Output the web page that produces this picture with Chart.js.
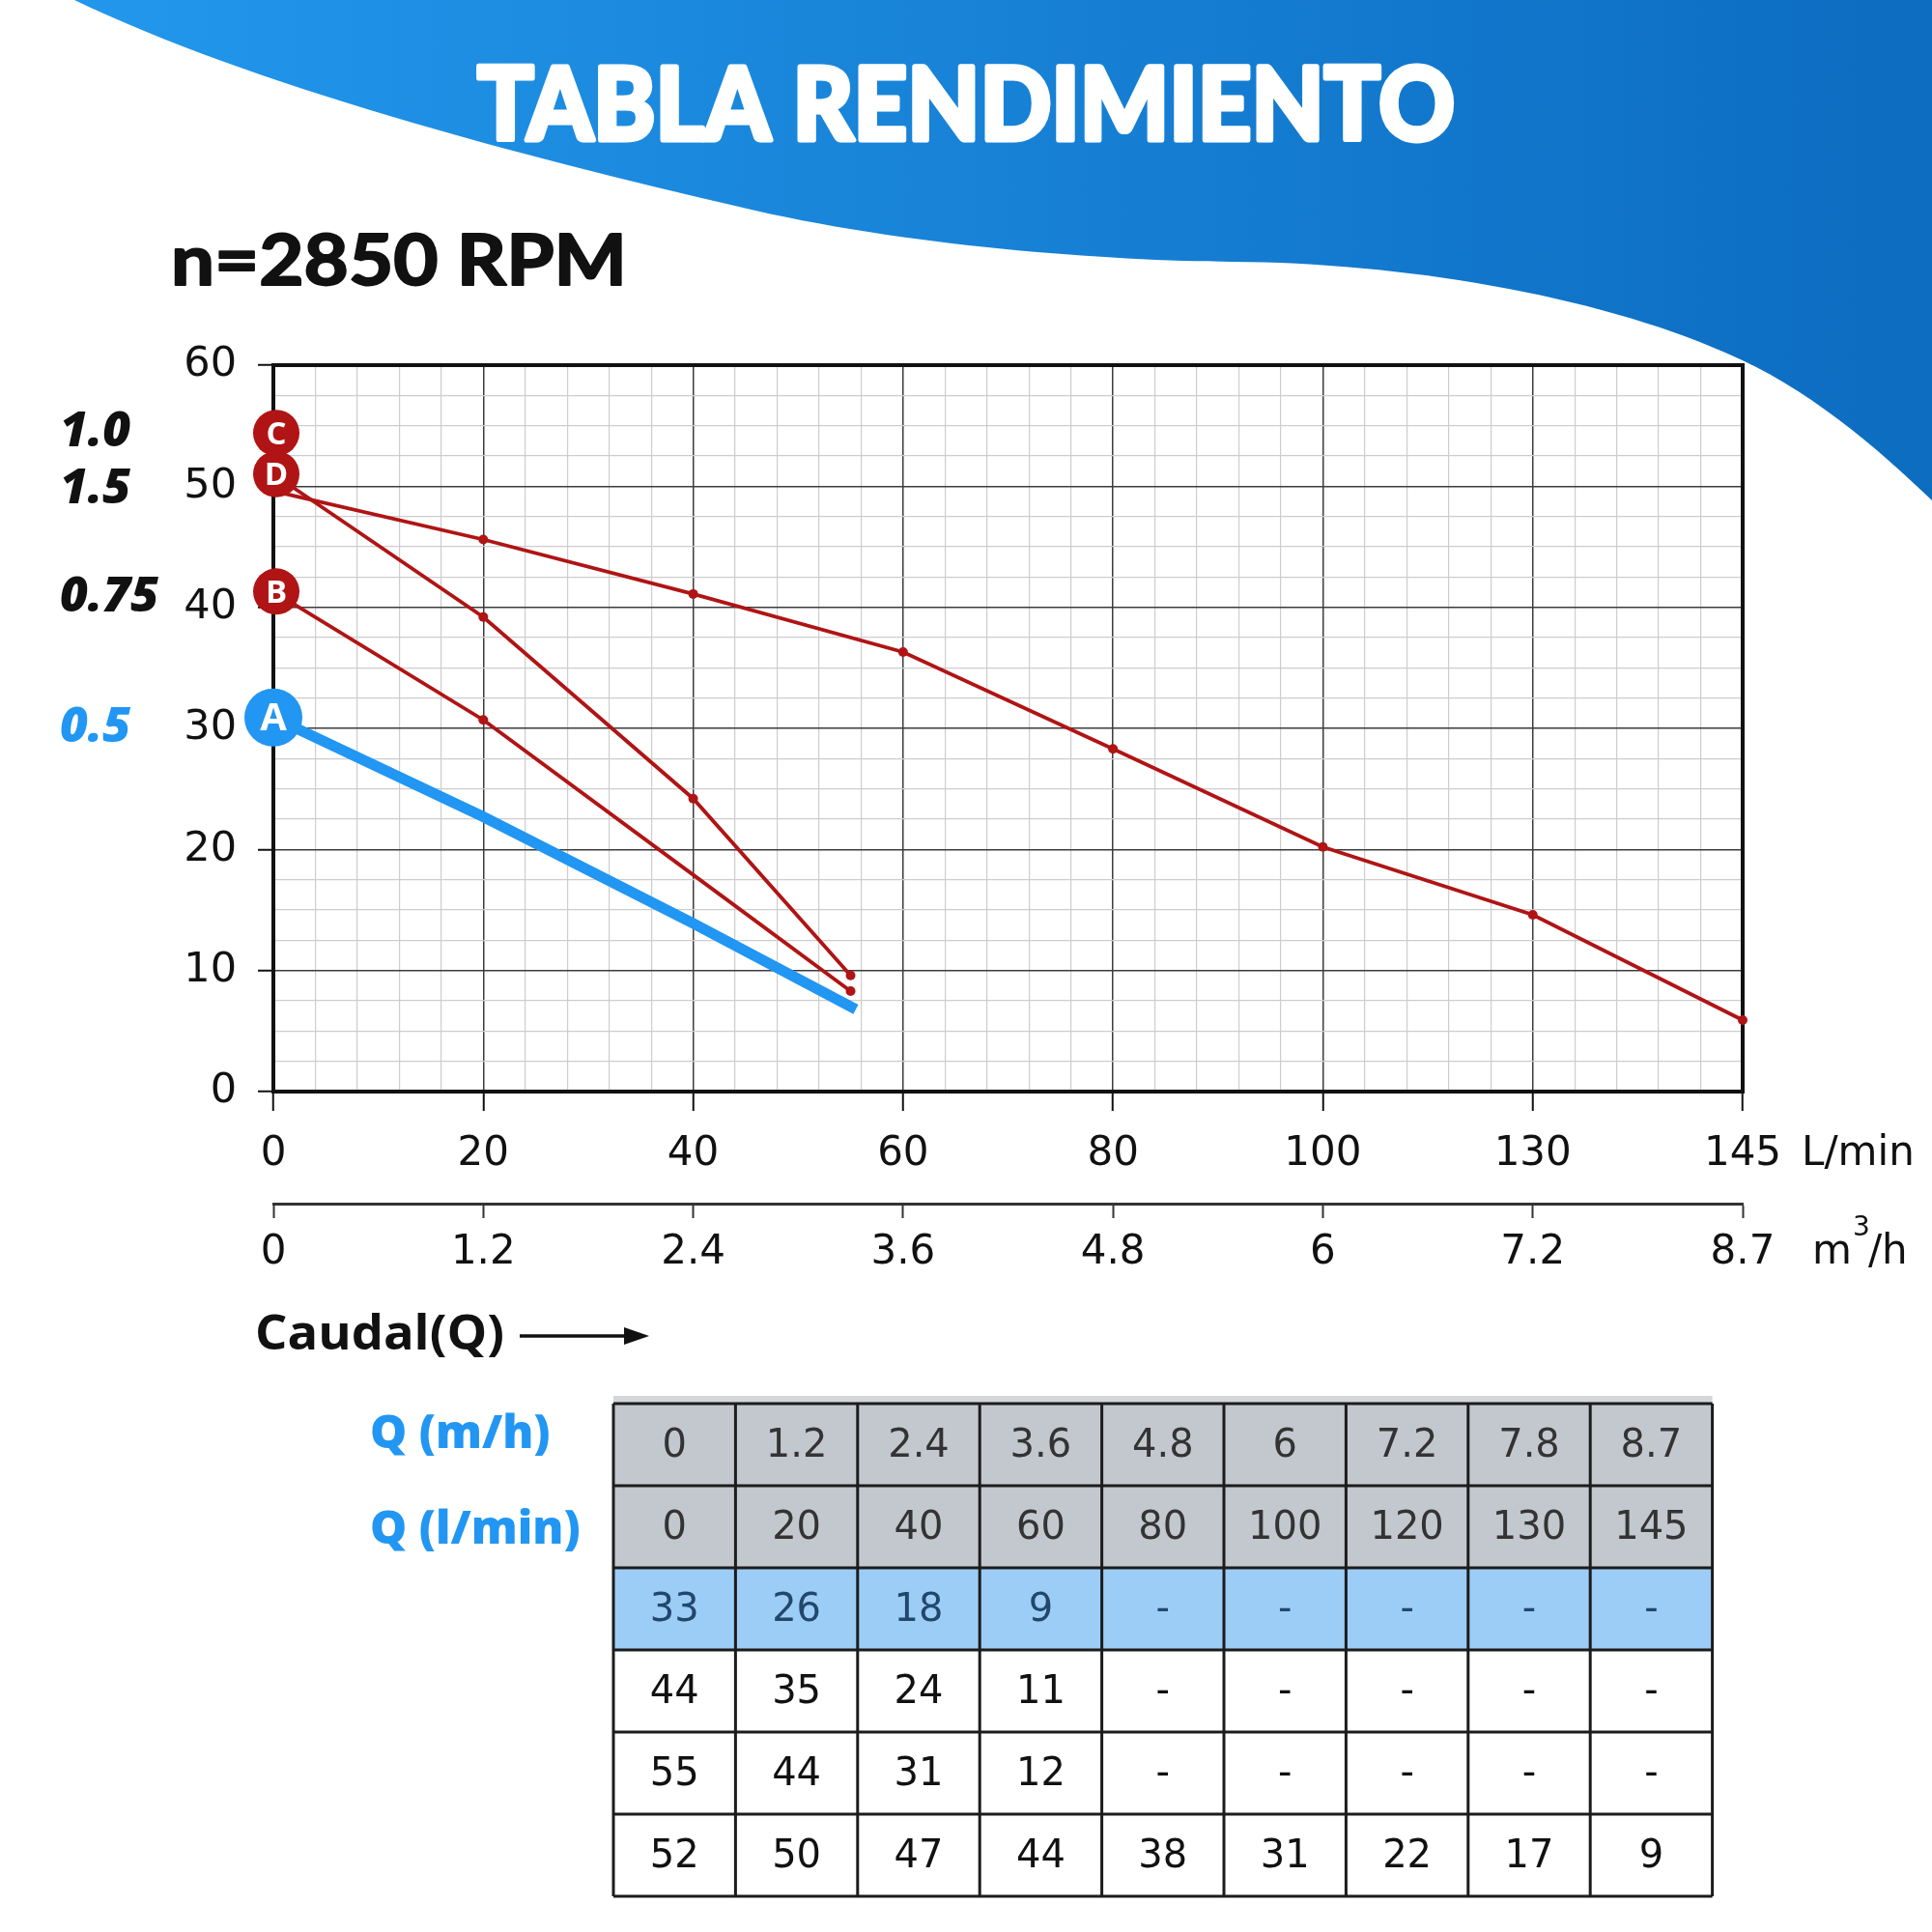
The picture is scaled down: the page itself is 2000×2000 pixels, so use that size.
<!DOCTYPE html>
<html lang="es">
<head>
<meta charset="utf-8">
<title>Tabla rendimiento</title>
<script src="https://cdn.jsdelivr.net/npm/chart.js@4.4.1/dist/chart.umd.min.js"></script>
<style>
  html, body { margin: 0; padding: 0; background: #fff; }
  canvas { display: block; }
</style>
</head>
<body>
<canvas id="curvas" width="2000" height="2000"></canvas>
<script>
// Marcas del eje de caudal (se dibujan equidistantes)
const lminTicks = [0, 20, 40, 60, 80, 100, 130, 145];
const m3hTicks = ['0', '1.2', '2.4', '3.6', '4.8', '6', '7.2', '8.7'];

// Curvas H-Q (caudal L/min, altura m)
const caudalLargo = [0, 20, 40, 60, 80, 100, 130, 145];
const alturaLargo = [49.6, 45.6, 41.1, 36.3, 28.3, 20.2, 14.6, 5.9];
const caudalD = [0, 20, 40, 55];
const alturaD = [51.0, 39.2, 24.2, 9.6];
const caudalB = [0, 20, 40, 55];
const alturaB = [41.3, 30.7, 17.9, 8.3];
const caudalA = [0, 20, 40, 55.5];
const alturaA = [30.9, 22.7, 13.9, 6.8];

// Marcadores al inicio de las curvas
const letras = ['C', 'D', 'B', 'A'];
const alturaLetras = [54.4, 51.0, 41.3, 30.9];
const potencias = ['1.0', '1.5', '0.75', '0.5'];

// Tabla inferior
const filaQm3h = ['0', '1.2', '2.4', '3.6', '4.8', '6', '7.2', '7.8', '8.7'];
const filaQlmin = ['0', '20', '40', '60', '80', '100', '120', '130', '145'];
const filaA = ['33', '26', '18', '9', '-', '-', '-', '-', '-'];
const filaB = ['44', '35', '24', '11', '-', '-', '-', '-', '-'];
const filaC = ['55', '44', '31', '12', '-', '-', '-', '-', '-'];
const filaD = ['52', '50', '47', '44', '38', '31', '22', '17', '9'];

const rojo = '#b01414';
const azul = '#2196f3';

// Caudal -> posición en el eje (marcas equidistantes)
function aIndice(q) {
    for (let i = 0; i < lminTicks.length - 1; i++) {
        if (q <= lminTicks[i + 1]) {
            return i + (q - lminTicks[i]) / (lminTicks[i + 1] - lminTicks[i]);
        }
    }
    return lminTicks.length - 1;
}

function puntos(caudal, altura) {
    return caudal.map((q, i) => ({ x: aIndice(q), y: altura[i] }));
}

function esEntero(v) {
    return Math.abs(v - Math.round(v)) < 1e-6;
}

// Texto estirado a un ancho dado (con trazo para engrosar)
function textoAjustado(ctx, texto, x, y, ancho, grosor) {
    const w = ctx.measureText(texto).width;
    ctx.save();
    ctx.translate(x, y);
    ctx.scale(ancho / w, 1);
    if (grosor) {
        ctx.lineWidth = grosor;
        ctx.lineJoin = 'round';
        ctx.strokeStyle = ctx.fillStyle;
        ctx.strokeText(texto, 0, 0);
    }
    ctx.fillText(texto, 0, 0);
    ctx.restore();
}

// Fondo: onda azul, título y rpm
const fondo = {
    id: 'fondo',
    beforeDraw(chart) {
        const ctx = chart.ctx;
        ctx.save();
        ctx.fillStyle = '#fff';
        ctx.fillRect(0, 0, 2000, 2000);

        const grad = ctx.createLinearGradient(0, 0, 2000, 0);
        grad.addColorStop(0, '#2399ee');
        grad.addColorStop(1, '#0c6cc0');
        ctx.fillStyle = grad;
        ctx.beginPath();
        ctx.moveTo(77, 0);
        ctx.bezierCurveTo(260, 88, 540, 162, 765, 214);
        ctx.bezierCurveTo(935, 255, 1150, 270, 1276, 271);
        ctx.bezierCurveTo(1450, 272, 1650, 305, 1786, 365);
        ctx.bezierCurveTo(1870, 400, 1945, 465, 2000, 518);
        ctx.lineTo(2000, 0);
        ctx.closePath();
        ctx.fill();

        ctx.fillStyle = '#fff';
        ctx.font = '900 104px Lato';
        ctx.textBaseline = 'alphabetic';
        textoAjustado(ctx, 'TABLA RENDIMIENTO', 494, 145, 1012, 5);

        ctx.fillStyle = '#111';
        ctx.font = 'bold 72px Lato';
        textoAjustado(ctx, 'n=2850 RPM', 177, 295, 472, 2);
        ctx.restore();
    }
};

// Marco negro del área de trazado
const marco = {
    id: 'marco',
    beforeDatasetsDraw(chart) {
        const { ctx, chartArea: a } = chart;
        ctx.save();
        ctx.strokeStyle = '#111';
        ctx.lineWidth = 4;
        ctx.strokeRect(a.left, a.top, a.right - a.left, a.bottom - a.top);
        ctx.restore();
    }
};

// Círculos con letra y potencia (kW) a la izquierda
const desfase = [0, 16, 6, 11];
const marcadores = {
    id: 'marcadores',
    afterDatasetsDraw(chart) {
        const { ctx, scales: { x, y } } = chart;
        letras.forEach((l, i) => {
            const px = x.getPixelForValue(0);
            const py = y.getPixelForValue(alturaLetras[i]);
            const esA = l === 'A';
            ctx.save();
            ctx.fillStyle = esA ? azul : rojo;
            ctx.beginPath();
            ctx.arc(px + (esA ? 0 : 3), py, esA ? 30 : 24, 0, Math.PI * 2);
            ctx.fill();
            ctx.fillStyle = '#fff';
            ctx.font = `bold ${esA ? 40 : 33}px "Open Sans"`;
            ctx.textAlign = 'center';
            ctx.textBaseline = 'middle';
            ctx.fillText(l, px + (esA ? 0 : 3), py + 2);

            ctx.font = 'italic 800 50px "Open Sans"';
            ctx.textAlign = 'left';
            ctx.fillStyle = esA ? azul : '#111';
            ctx.fillText(potencias[i], 62, py + desfase[i]);
            ctx.restore();
        });
    }
};

// Unidades, rótulo de caudal y tabla
const extras = {
    id: 'extras',
    afterDraw(chart) {
        const ctx = chart.ctx;
        ctx.save();
        ctx.fillStyle = '#111';
        ctx.textBaseline = 'middle';
        ctx.textAlign = 'left';
        ctx.font = '42px "DejaVu Sans"';
        ctx.fillText('L/min', 1865, 1195);
        ctx.fillText('m', 1876, 1297);
        const wm = ctx.measureText('m').width;
        ctx.fillText('/h', 1876 + wm + 17, 1297);
        ctx.font = '28px "DejaVu Sans"';
        ctx.fillText('3', 1876 + wm + 1, 1272);

        // Caudal(Q) con flecha
        ctx.font = 'bold 50px "Open Sans"';
        textoAjustado(ctx, 'Caudal(Q)', 264, 1383, 258, 0);
        ctx.strokeStyle = '#111';
        ctx.lineWidth = 3.5;
        ctx.beginPath();
        ctx.moveTo(538, 1383);
        ctx.lineTo(652, 1383);
        ctx.stroke();
        ctx.beginPath();
        ctx.moveTo(672, 1383);
        ctx.lineTo(646, 1374);
        ctx.lineTo(646, 1392);
        ctx.closePath();
        ctx.fill();

        // Tabla
        const tx = 635, ty = 1453, cw = 126.4, rh = 85;
        const filas = [filaQm3h, filaQlmin, filaA, filaB, filaC, filaD];
        const fondos = ['#c3c8cf', '#c3c8cf', '#9ccdf6', '#fff', '#fff', '#fff'];
        const colores = ['#333', '#333', '#23476b', '#111', '#111', '#111'];
        ctx.fillStyle = '#d4d7da';
        ctx.fillRect(tx, ty - 8, cw * 9, 8);
        filas.forEach((fila, r) => {
            ctx.fillStyle = fondos[r];
            ctx.fillRect(tx, ty + r * rh, cw * 9, rh);
            ctx.fillStyle = colores[r];
            ctx.font = '40px "DejaVu Sans"';
            ctx.textAlign = 'center';
            fila.forEach((v, c) => {
                ctx.fillText(v, tx + cw * (c + 0.5), ty + rh * (r + 0.5) + 2);
            });
        });
        ctx.strokeStyle = '#1c1c1c';
        ctx.lineWidth = 3;
        for (let r = 0; r <= filas.length; r++) {
            ctx.beginPath();
            ctx.moveTo(tx, ty + r * rh);
            ctx.lineTo(tx + cw * 9, ty + r * rh);
            ctx.stroke();
        }
        for (let c = 0; c <= 9; c++) {
            ctx.beginPath();
            ctx.moveTo(tx + c * cw, ty);
            ctx.lineTo(tx + c * cw, ty + rh * filas.length);
            ctx.stroke();
        }

        ctx.fillStyle = azul;
        ctx.textAlign = 'left';
        ctx.font = '800 48px "Open Sans"';
        ctx.fillText('Q (m/h)', 383, 1485);
        ctx.fillText('Q (l/min)', 383, 1584);
        ctx.restore();
    }
};

const fuenteEje = { family: 'DejaVu Sans', size: 42 };

new Chart(document.getElementById('curvas'), {
    type: 'line',
    data: {
        datasets: [
            {
                label: '0.5 (A)',
                data: puntos(caudalA, alturaA),
                borderColor: azul,
                borderWidth: 11,
                pointRadius: 0,
                tension: 0,
                clip: false
            },
            {
                label: '0.75 (B)',
                data: puntos(caudalB, alturaB),
                borderColor: rojo,
                borderWidth: 3.8,
                pointRadius: [0, 5, 0, 5],
                pointBackgroundColor: rojo,
                pointBorderWidth: 0,
                tension: 0,
                clip: false
            },
            {
                label: '1.5 (D)',
                data: puntos(caudalD, alturaD),
                borderColor: rojo,
                borderWidth: 3.8,
                pointRadius: [0, 5, 5, 5],
                pointBackgroundColor: rojo,
                pointBorderWidth: 0,
                tension: 0,
                clip: false
            },
            {
                label: '1.0',
                data: puntos(caudalLargo, alturaLargo),
                borderColor: rojo,
                borderWidth: 3.8,
                pointRadius: [0, 5, 5, 5, 5, 5, 5, 5],
                pointBackgroundColor: rojo,
                pointBorderWidth: 0,
                tension: 0,
                clip: false
            }
        ]
    },
    options: {
        responsive: false,
        devicePixelRatio: 1,
        animation: false,
        events: [],
        layout: { padding: { top: 378, left: 188, right: 196, bottom: 654 } },
        plugins: {
            legend: { display: false },
            tooltip: { enabled: false }
        },
        scales: {
            x: {
                type: 'linear',
                position: 'bottom',
                weight: 0,
                min: 0,
                max: 7,
                afterFit: s => { s.height = 116; },
                ticks: {
                    stepSize: 0.2,
                    autoSkip: false,
                    maxRotation: 0,
                    padding: 20,
                    color: '#111',
                    font: fuenteEje,
                    callback: v => esEntero(v) ? lminTicks[Math.round(v)] : ''
                },
                grid: {
                    color: c => esEntero(c.tick.value) ? '#3c3c3c' : '#cdcdcd',
                    lineWidth: c => esEntero(c.tick.value) ? 1.5 : 1.2,
                    tickLength: 20,
                    tickWidth: 2,
                    tickColor: c => esEntero(c.tick.value) ? '#111' : 'rgba(0,0,0,0)'
                },
                border: { display: false }
            },
            x2: {
                type: 'linear',
                position: 'bottom',
                weight: 1,
                min: 0,
                max: 7,
                afterFit: s => { s.height = 100; },
                ticks: {
                    stepSize: 1,
                    autoSkip: false,
                    maxRotation: 0,
                    padding: 11,
                    color: '#111',
                    font: fuenteEje,
                    callback: v => m3hTicks[Math.round(v)]
                },
                grid: {
                    drawOnChartArea: false,
                    tickLength: 15,
                    tickWidth: 2,
                    tickColor: '#333'
                },
                border: { display: true, color: '#333', width: 3 }
            },
            y: {
                min: 0,
                max: 60,
                afterFit: s => { s.width = 95; },
                ticks: {
                    stepSize: 2.5,
                    autoSkip: false,
                    padding: 22,
                    color: '#111',
                    font: { family: 'DejaVu Sans', size: 43 },
                    callback: v => v % 10 === 0 ? v : ''
                },
                grid: {
                    color: c => c.tick.value % 10 === 0 ? '#3c3c3c' : '#cdcdcd',
                    lineWidth: c => c.tick.value % 10 === 0 ? 1.5 : 1.2,
                    tickLength: 16,
                    tickWidth: 2,
                    tickColor: c => c.tick.value % 10 === 0 ? '#111' : 'rgba(0,0,0,0)'
                },
                border: { display: false }
            }
        }
    },
    plugins: [fondo, marco, marcadores, extras]
});
</script>
</body>
</html>
